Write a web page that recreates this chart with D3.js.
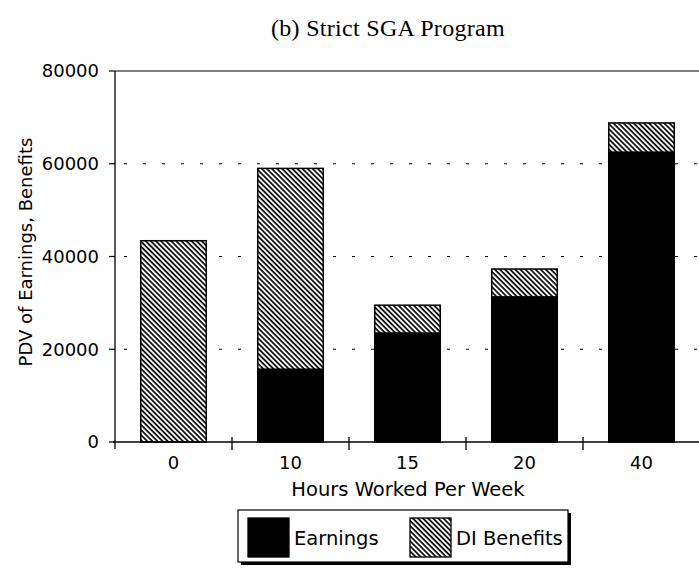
<!DOCTYPE html>
<html>
<head>
<meta charset="utf-8">
<script src="https://cdn.jsdelivr.net/npm/d3@7"></script>
<style>
  body { margin: 0; background: #fff; }
  text { fill: #000; }
</style>
</head>
<body>
<script>
// data
var hours = ["0", "10", "15", "20", "40"];
var earnings = [0, 15700, 23500, 31300, 62500];
var diBenefits = [43400, 43300, 6000, 6000, 6300];
var yTicks = [0, 20000, 40000, 60000, 80000];
var gridTicks = [20000, 40000, 60000];
var seriesNames = ["Earnings", "DI Benefits"];

var W = 699, H = 569;
var sans = "'DejaVu Sans', sans-serif";

var svg = d3.select("body").append("svg")
    .attr("width", W)
    .attr("height", H);

// hatch for DI benefits
var defs = svg.append("defs");
defs.append("pattern")
    .attr("id", "hatch")
    .attr("patternUnits", "userSpaceOnUse")
    .attr("width", 3.6)
    .attr("height", 3.6)
    .attr("patternTransform", "rotate(-45)")
  .call(function(p) {
    p.append("rect").attr("width", 3.6).attr("height", 3.6).attr("fill", "#fff");
    p.append("line")
      .attr("x1", 1).attr("y1", 0).attr("x2", 1).attr("y2", 3.6)
      .attr("stroke", "#000").attr("stroke-width", 1.7);
  });

var x = d3.scaleBand()
    .domain(hours)
    .range([115, 700])
    .paddingInner(0.44)
    .paddingOuter(0.22);

var y = d3.scaleLinear()
    .domain([0, 80000])
    .range([442, 71]);

var step = x.step();

// title
svg.append("text")
    .attr("x", 388)
    .attr("y", 36)
    .attr("text-anchor", "middle")
    .style("font-family", "'Liberation Serif', 'Times New Roman', serif")
    .style("font-size", "24px")
    .style("letter-spacing", "0.3px")
    .text("(b) Strict SGA Program");

// dotted grid
svg.selectAll(".grid")
    .data(gridTicks)
  .enter().append("line")
    .attr("class", "grid")
    .attr("x1", 124)
    .attr("x2", 699)
    .attr("y1", function(d) { return y(d); })
    .attr("y2", function(d) { return y(d); })
    .attr("stroke", "#000")
    .attr("stroke-width", 1.2)
    .attr("stroke-dasharray", "3,16");

// top line at 80000
svg.append("line")
    .attr("x1", 115).attr("x2", 699)
    .attr("y1", y(80000)).attr("y2", y(80000))
    .attr("stroke", "#000").attr("stroke-width", 1.2);

// stacked bars
var stacked = hours.map(function(h, i) {
  return { h: h, e: earnings[i], b: diBenefits[i] };
});

var bars = svg.selectAll(".bar")
    .data(stacked)
  .enter().append("g")
    .attr("class", "bar");

bars.filter(function(d) { return d.e > 0; })
  .append("rect")
    .attr("x", function(d) { return x(d.h); })
    .attr("width", x.bandwidth())
    .attr("y", function(d) { return y(d.e); })
    .attr("height", function(d) { return y(0) - y(d.e); })
    .attr("fill", "#000")
    .attr("stroke", "#000")
    .attr("stroke-width", 1.5);

bars.append("rect")
    .attr("x", function(d) { return x(d.h); })
    .attr("width", x.bandwidth())
    .attr("y", function(d) { return y(d.e + d.b); })
    .attr("height", function(d) { return y(d.e) - y(d.e + d.b); })
    .attr("fill", "url(#hatch)")
    .attr("stroke", "#000")
    .attr("stroke-width", 1.5);

// y axis
svg.append("line")
    .attr("x1", 115).attr("x2", 115)
    .attr("y1", y(80000)).attr("y2", 449)
    .attr("stroke", "#000").attr("stroke-width", 1.3);

svg.selectAll(".ytick")
    .data(yTicks)
  .enter().append("line")
    .attr("x1", 109).attr("x2", 115)
    .attr("y1", function(d) { return y(d); })
    .attr("y2", function(d) { return y(d); })
    .attr("stroke", "#000").attr("stroke-width", 1.2);

svg.selectAll(".ylab")
    .data(yTicks)
  .enter().append("text")
    .attr("x", 99)
    .attr("y", function(d) { return y(d); })
    .attr("dy", "0.36em")
    .attr("text-anchor", "end")
    .style("font-family", sans)
    .style("font-size", "18px")
    .text(function(d) { return d; });

svg.append("text")
    .attr("transform", "translate(32,252) rotate(-90)")
    .attr("text-anchor", "middle")
    .style("font-family", sans)
    .style("font-size", "18px")
    .text("PDV of Earnings, Benefits");

// x axis
svg.append("line")
    .attr("x1", 113).attr("x2", 699)
    .attr("y1", y(0)).attr("y2", y(0))
    .attr("stroke", "#000").attr("stroke-width", 1.3);

svg.selectAll(".xtick")
    .data(hours.slice(1))
  .enter().append("line")
    .attr("x1", function(d) { return x(d) - step * 0.22; })
    .attr("x2", function(d) { return x(d) - step * 0.22; })
    .attr("y1", 437).attr("y2", 450)
    .attr("stroke", "#000").attr("stroke-width", 1.3);

svg.selectAll(".xlab")
    .data(hours)
  .enter().append("text")
    .attr("x", function(d) { return x(d) + x.bandwidth() / 2; })
    .attr("y", 469)
    .attr("text-anchor", "middle")
    .style("font-family", sans)
    .style("font-size", "18px")
    .text(function(d) { return d; });

svg.append("text")
    .attr("x", 408)
    .attr("y", 496)
    .attr("text-anchor", "middle")
    .style("font-family", sans)
    .style("font-size", "19.5px")
    .text("Hours Worked Per Week");

// legend
var lg = svg.append("g");
lg.append("rect")
    .attr("x", 241).attr("y", 513)
    .attr("width", 330).attr("height", 52)
    .attr("fill", "#000");
lg.append("rect")
    .attr("x", 238).attr("y", 510)
    .attr("width", 330).attr("height", 52)
    .attr("fill", "#fff")
    .attr("stroke", "#000").attr("stroke-width", 1.2);

var items = [
  { name: seriesNames[0], fill: "#000", sx: 248, tx: 294 },
  { name: seriesNames[1], fill: "url(#hatch)", sx: 410, tx: 456 }
];
lg.selectAll(".sw")
    .data(items)
  .enter().append("rect")
    .attr("x", function(d) { return d.sx; })
    .attr("y", 518)
    .attr("width", 41).attr("height", 39)
    .attr("fill", function(d) { return d.fill; })
    .attr("stroke", "#000").attr("stroke-width", 1.3);
lg.selectAll(".lt")
    .data(items)
  .enter().append("text")
    .attr("x", function(d) { return d.tx; })
    .attr("y", 545)
    .style("font-family", sans)
    .style("font-size", "19.5px")
    .text(function(d) { return d.name; });
</script>
</body>
</html>
